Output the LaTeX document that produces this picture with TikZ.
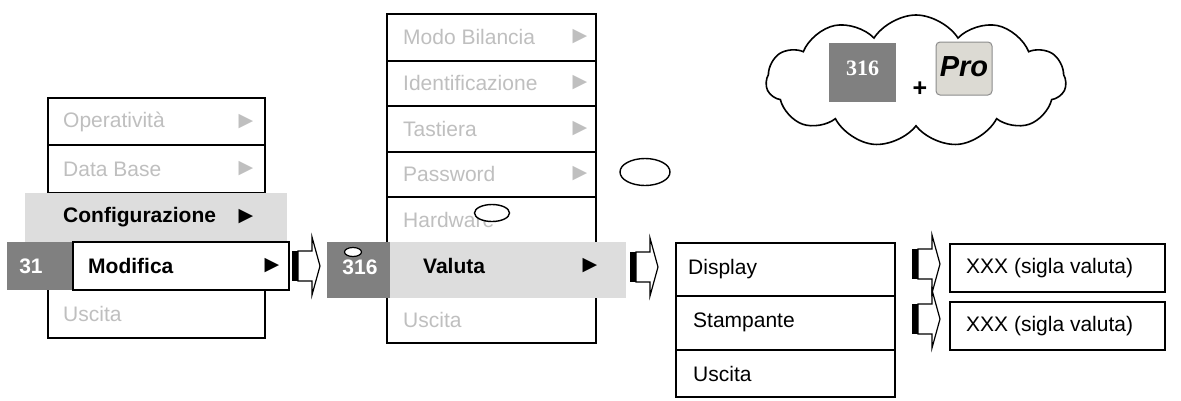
\documentclass[tikz,border=0pt]{standalone}
\usepackage{fontspec}
\setmainfont{Liberation Sans}
\newfontfamily\dejavu{DejaVu Sans}
\newfontfamily\tnrfont{Liberation Serif}
\usetikzlibrary{shapes.symbols,shapes.geometric}
\definecolor{txtgray}{HTML}{BFBFBF}
\definecolor{bandgray}{HTML}{DDDDDD}
\definecolor{boxgray}{HTML}{808080}
\definecolor{keyfill}{HTML}{DCDAD3}
\definecolor{keyline}{HTML}{8C8C8C}
\newcommand\blkarrow[3]{% name, x0, center y
  \coordinate (#1) at (#2,#3);
  \fill[black] ([yshift=15]#1) rectangle ([xshift=6,yshift=-15]#1);
  \draw[line width=1.2pt, line join=miter]
    ([xshift=6,yshift=15]#1) -- ([xshift=20,yshift=15]#1) -- ([xshift=20,yshift=29]#1)
    -- ([xshift=28]#1) -- ([xshift=20,yshift=-29]#1) -- ([xshift=20,yshift=-15]#1)
    -- ([xshift=6,yshift=-15]#1) -- cycle;
}
\begin{document}
\begin{tikzpicture}[x=1pt,y=-1pt,
  rowbox/.style={draw, line width=1.6pt, rectangle, inner sep=0pt, fill=white},
  band/.style={rectangle, inner sep=0pt, fill=bandgray},
  dbox/.style={rectangle, inner sep=0pt, fill=boxgray},
  gtxt/.style={anchor=west, inner sep=0pt, text=txtgray, font=\fontsize{21}{25}\selectfont},
  btxt/.style={anchor=west, inner sep=0pt, text=black, font=\fontsize{21}{25}\selectfont\bfseries},
  ntxt/.style={anchor=west, inner sep=0pt, text=black, font=\fontsize{21}{25}\selectfont},
  wtxt/.style={inner sep=0pt, text=white, font=\fontsize{21}{25}\selectfont\bfseries},
  gtri/.style={inner sep=0pt, text=txtgray, font=\dejavu\fontsize{19}{19}\selectfont},
  btri/.style={inner sep=0pt, text=black, font=\dejavu\fontsize{19}{19}\selectfont},
  ell/.style={draw, ellipse, line width=1.4pt, fill=white, inner sep=0pt}
]
\useasboundingbox (0,0) rectangle (1181,400);

% ---------- menu 1 ----------
\node[rowbox, minimum width=217, minimum height=47] (m1a) at (156.5,121.5) {};
\node[rowbox, minimum width=217, minimum height=48] (m1b) at (156.5,169) {};
\node[rowbox, minimum width=217, minimum height=96] (m1e) at (156.5,290) {};
\node[band, minimum width=262, minimum height=49] (m1c) at (156,217.5) {};
\node[dbox, minimum width=66, minimum height=48] (m1n) at (40,266) {};
\node[rowbox, minimum width=216, minimum height=48] (m1d) at (181,266) {};
\node[gtxt] (t1a) at (63,121.5) {Operatività};
\node[gtri] (a1a) at (246,121.5) {▶};
\node[gtxt] (t1b) at (63,169) {Data Base};
\node[gtri] (a1b) at (246,169) {▶};
\node[btxt] (t1c) at (63,217) {Configurazione};
\node[btri] (a1c) at (246,217) {▶};
\node[btxt] (t1d) at (88,266) {Modifica};
\node[btri] (a1d) at (272,266) {▶};
\node[wtxt] (n31) at (31,266) {31};
\node[gtxt] (t1e) at (63,314) {Uscita};

% ---------- menu 2 ----------
\node[rowbox, minimum width=209, minimum height=47] (m2a) at (491.5,37.5) {};
\node[rowbox, minimum width=209, minimum height=45] (m2b) at (491.5,83.5) {};
\node[rowbox, minimum width=209, minimum height=46] (m2c) at (491.5,129) {};
\node[rowbox, minimum width=209, minimum height=45] (m2d) at (491.5,174.5) {};
\node[rowbox, minimum width=209, minimum height=46] (m2e) at (491.5,220) {};
\node[rowbox, minimum width=209, minimum height=90] (m2g) at (491.5,298) {};
\node[band, minimum width=236, minimum height=56] (m2f) at (508,270) {};
\node[dbox, minimum width=63, minimum height=56] (m2n) at (358.5,270) {};
\node[gtxt] (t2a) at (403,37) {Modo Bilancia};
\node[gtri] (a2a) at (580,37) {▶};
\node[gtxt] (t2b) at (403,83) {Identificazione};
\node[gtri] (a2b) at (580,83) {▶};
\node[gtxt] (t2c) at (403,129) {Tastiera};
\node[gtri] (a2c) at (580,129) {▶};
\node[gtxt] (t2d) at (403,174) {Password};
\node[gtri] (a2d) at (580,174) {▶};
\node[gtxt] (t2e) at (403,220) {Hardware};
\node[btxt] (t2f) at (423,266) {Valuta};
\node[btri] (a2f) at (590,266) {▶};
\node[wtxt] (n316) at (360,267) {316};
\node[gtxt] (t2g) at (403,320) {Uscita};

% ellipses
\node[ell, minimum width=50, minimum height=27] (e1) at (645,172) {};
\node[ell, minimum width=35, minimum height=17] (e2) at (492,213) {};
\node[ell, minimum width=17, minimum height=9, line width=1.2pt] (e3) at (353,252) {};

% ---------- menu 3 ----------
\node[rowbox, minimum width=219, minimum height=53] (m3a) at (785.5,269.5) {};
\node[rowbox, minimum width=219, minimum height=54] (m3b) at (785.5,323) {};
\node[rowbox, minimum width=219, minimum height=47] (m3c) at (785.5,373.5) {};
\node[ntxt] (t3a) at (688,269) {Display};
\node[ntxt] (t3b) at (693,322) {Stampante};
\node[ntxt] (t3c) at (693,374) {Uscita};

% ---------- result boxes ----------
\node[rowbox, minimum width=215, minimum height=48, line width=1.2pt] (r1) at (1057.5,268) {};
\node[rowbox, minimum width=215, minimum height=48, line width=1.2pt] (r2) at (1057.5,326) {};
\node[ntxt] (tr1) at (966,268) {XXX (sigla valuta)};
\node[ntxt] (tr2) at (966,326) {XXX (sigla valuta)};

% ---------- block arrows ----------
\blkarrow{A1}{292}{266}
\blkarrow{A2}{630}{267}
\blkarrow{A3}{912}{264}
\blkarrow{A4}{912}{319}

% ---------- cloud ----------
\node[cloud, draw, line width=1.6pt, cloud puffs=11, cloud puff arc=115, cloud ignores aspect,
      minimum width=300, minimum height=132, inner sep=0pt] (cl) at (916,81) {};
\node[dbox, minimum width=67, minimum height=59] (c316) at (862.5,72.5) {};
\node[inner sep=0pt, text=white, font=\tnrfont\fontsize{22}{26}\selectfont\bfseries] (c316t) at (862.5,68) {316};
\node[inner sep=0pt, font=\fontsize{25}{28}\selectfont\bfseries] (plus) at (920,89) {+};
\node[draw=keyline, fill=keyfill, rounded corners=4pt, line width=1pt, minimum width=56, minimum height=53, inner sep=0pt] (pro) at (964,68.5) {};
\node[inner sep=0pt, font=\fontsize{29}{31}\selectfont\bfseries\itshape] (prot) at (964,67) {Pro};
\end{tikzpicture}
\end{document}
